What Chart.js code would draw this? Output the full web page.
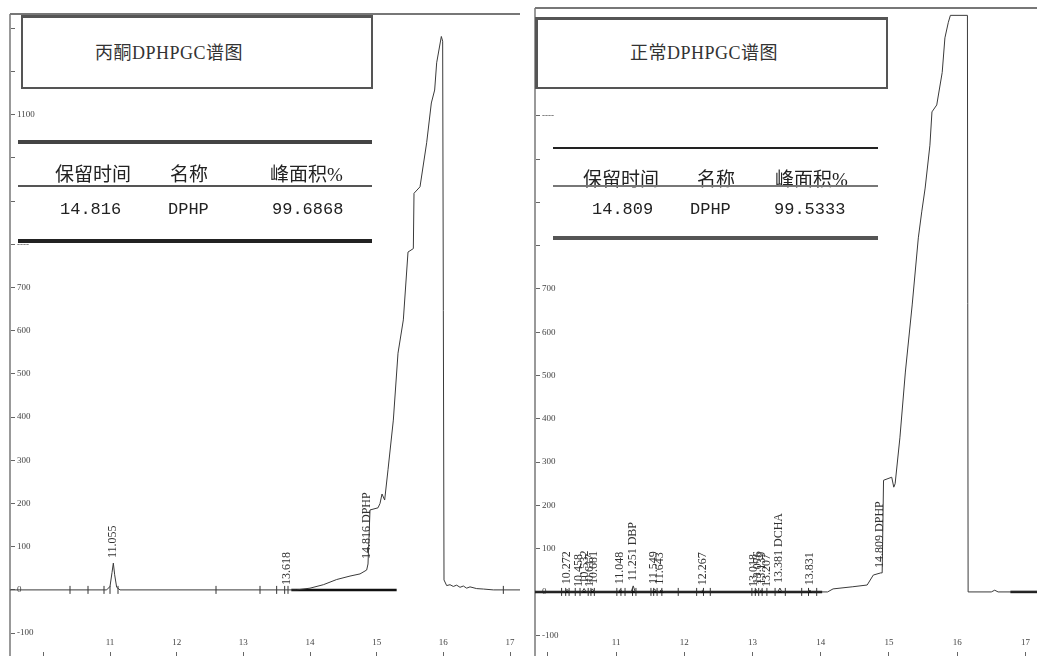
<!DOCTYPE html>
<html>
<head>
<meta charset="utf-8">
<script src="https://cdn.jsdelivr.net/npm/chart.js@4.4.0/dist/chart.umd.min.js"></script>
<style>
  body { margin: 0; width: 1037px; height: 656px; overflow: hidden; position: relative; background: #fff;
         font-family: "Liberation Serif", "Noto Sans CJK SC", serif; color: #222; }
  canvas { position: absolute; }
  #leftChart { left: 9px; top: 14px; }
  #rightChart { left: 534px; top: 8px; }
  .line { position: absolute; }
  .box { position: absolute; background: #fff; box-sizing: border-box; }
  .t { position: absolute; white-space: nowrap; line-height: 20px; height: 20px; }
  .cn { font-size: 19px; }
  .num { font-family: "Liberation Mono", monospace; font-size: 17px; }
  .title { font-size: 18px; letter-spacing: 0.5px; color: #333; }
</style>
</head>
<body>
<canvas id="leftChart" width="511" height="642"></canvas>
<canvas id="rightChart" width="503" height="648"></canvas>

<!-- frame tops -->
<div class="line" style="left:10px;top:13px;width:510px;height:2px;background:#777"></div>
<div class="line" style="left:535px;top:7px;width:502px;height:2px;background:#777"></div>

<!-- left title + table -->
<div class="box" style="left:21px;top:15px;width:352px;height:74px;border:2px solid #555;border-top-width:3px"></div>
<div class="t title" style="left:95px;top:43px">丙酮DPHPGC谱图</div>
<div class="line" style="left:18px;top:140px;width:354px;height:4px;background:#444"></div>
<div class="t cn" style="left:55px;top:165px">保留时间</div>
<div class="t cn" style="left:170px;top:165px">名称</div>
<div class="t cn" style="left:270px;top:165px">峰面积%</div>
<div class="line" style="left:18px;top:185px;width:354px;height:2px;background:#555"></div>
<div class="t num" style="left:60px;top:200px">14.816</div>
<div class="t num" style="left:168px;top:200px">DPHP</div>
<div class="t num" style="left:272px;top:200px">99.6868</div>
<div class="line" style="left:18px;top:239px;width:354px;height:4px;background:#222"></div>

<!-- right title + table -->
<div class="box" style="left:535px;top:17px;width:353px;height:72px;border:2px solid #555;border-left-width:3px;border-top-width:3px"></div>
<div class="t title" style="left:630px;top:43px">正常DPHPGC谱图</div>
<div class="line" style="left:553px;top:147px;width:325px;height:2px;background:#222"></div>
<div class="t cn" style="left:583px;top:170px">保留时间</div>
<div class="t cn" style="left:697px;top:170px">名称</div>
<div class="t cn" style="left:775px;top:170px">峰面积%</div>
<div class="line" style="left:553px;top:185px;width:325px;height:2px;background:#777"></div>
<div class="t num" style="left:592px;top:200px">14.809</div>
<div class="t num" style="left:690px;top:200px">DPHP</div>
<div class="t num" style="left:774px;top:200px">99.5333</div>
<div class="line" style="left:553px;top:236px;width:325px;height:4px;background:#555"></div>

<script>
// ---- left chromatogram (丙酮) ----
const leftTime   = [9.5, 10.95, 11.0, 11.03, 11.05, 11.07, 11.1, 11.15, 13.8, 14.0, 14.2, 14.4, 14.6, 14.75, 14.85, 14.87,
                    14.9, 15.02, 15.05, 15.08, 15.12, 15.17, 15.25, 15.32, 15.40, 15.47, 15.55, 15.56, 15.65, 15.75, 15.82,
                    15.87, 15.90, 15.97, 15.99, 16.01, 16.05, 16.1, 16.15, 16.2, 16.25, 16.3, 16.35, 16.4, 16.5, 16.6, 16.75, 17.15];
const leftSignal = [0, 0, 8, 40, 62, 35, 6, 0, 0, 4, 12, 24, 32, 37, 46, 60,
                    185, 190, 200, 222, 208, 278, 393, 548, 625, 782, 790, 918, 933, 1035, 1127,
                    1157, 1220, 1281, 1270, 23, 10, 12, 8, 11, 6, 9, 4, 7, 3, 2, 0, 0];
const leftMarkTime  = [10.4, 10.67, 10.91, 11.0, 11.12, 12.59, 13.25, 13.5, 13.62, 13.67, 16.9];
const leftBaseStart = [13.72];
const leftBaseEnd   = [15.3];
const leftLabelTime = [11.05, 13.66, 14.86];
const leftLabelText = ['11.055', '13.618', '14.816 DPHP'];

// ---- right chromatogram (正常) ----
const rightTime   = [9.8, 10.25, 10.28, 10.31, 10.5, 10.53, 10.56, 10.62, 10.65, 10.68, 11.03, 11.06, 11.09, 11.22, 11.25, 11.28,
                     11.53, 11.56, 11.6, 11.63, 11.66, 11.7, 12.24, 12.27, 12.3, 13.02, 13.05, 13.08, 13.1, 13.13, 13.16,
                     13.37, 13.40, 13.43, 13.81, 13.84, 13.87, 14.1, 14.18, 14.47, 14.68, 14.77, 14.88, 14.90, 14.92, 15.04,
                     15.07, 15.09, 15.16, 15.24, 15.34, 15.43, 15.48, 15.53, 15.60, 15.63, 15.70, 15.78, 15.82, 15.87, 15.90,
                     16.15, 16.16, 16.5, 16.55, 16.6, 17.17];
const rightSignal = [0, 0, 6, 0, 0, 8, 0, 0, 7, 0, 0, 6, 0, 0, 14, 0,
                     0, 7, 0, 0, 5, 0, 0, 4, 0, 0, 6, 0, 0, 5, 0,
                     0, 9, 0, 0, 4, 0, 0, 7, 12, 16, 39, 44, 44, 258, 265,
                     242, 250, 356, 508, 663, 818, 878, 933, 1032, 1109, 1125, 1200, 1280, 1316, 1332,
                     1332, 0, 0, 4, 0, 0];
const rightMarkTime  = [10.20, 10.26, 10.31, 10.40, 10.47, 10.59, 10.63, 10.68, 11.01, 11.07, 11.13, 11.24, 11.29,
                        11.51, 11.55, 11.60, 11.67, 11.91, 12.18, 12.28, 12.38, 12.99, 13.04, 13.09, 13.14, 13.21,
                        13.33, 13.48, 13.72, 13.82, 13.94];
const rightBaseStart = [9.8, 16.78];
const rightBaseEnd   = [14.02, 17.17];
const rightLabelTime = [10.28, 10.46, 10.54, 10.62, 10.68, 11.06, 11.25, 11.55, 11.64, 12.27,
                        13.02, 13.08, 13.14, 13.21, 13.38, 13.84, 14.86];
const rightLabelText = ['10.272', '10.458', '10.532', '10.617', '10.681', '11.048', '11.251 DBP', '11.549', '11.643', '12.267',
                        '13.018', '13.076', '13.139', '13.207', '13.381 DCHA', '13.831', '14.809 DPHP'];

// ---- axes ----
const xTickValues   = [10, 11, 12, 13, 14, 15, 16, 17];
const xTickLabels   = ['', '11', '12', '13', '14', '15', '16', '17'];
const yTickValues   = [-100, 0, 100, 200, 300, 400, 500, 600, 700, 800, 900, 1000, 1100, 1200, 1300];
const leftYHidden   = [900, 1000, 1200, 1300];
const leftYDashed   = [800];
const rightYHidden  = [800, 900, 1000, 1200, 1300];
const rightYDashed  = [1100];

function series(ts, vs) {
  return ts.map((t, i) => ({ x: t, y: vs[i] }));
}

function peakAt(ts, vs, t) {
  let h = 0;
  ts.forEach((tt, i) => { if (Math.abs(tt - t) <= 0.03 && vs[i] > h) h = vs[i]; });
  return h;
}

// no extra space around the chart area: axes are drawn inside it
function noPadding(s) {
  s.paddingTop = 0; s.paddingBottom = 0; s.paddingLeft = 0; s.paddingRight = 0;
}

const peakLabels = {
  id: 'peakLabels',
  afterDatasetsDraw(chart, args, opts) {
    const { ctx, scales: { x, y } } = chart;
    ctx.save();
    ctx.font = '12px "Liberation Serif"';
    ctx.fillStyle = '#333';
    ctx.textBaseline = 'middle';
    ctx.textAlign = 'left';
    opts.times.forEach((t, i) => {
      const h = peakAt(opts.time, opts.signal, t);
      ctx.save();
      ctx.translate(x.getPixelForValue(t), y.getPixelForValue(h) - 5);
      ctx.rotate(-Math.PI / 2);
      ctx.fillText(opts.texts[i], 0, 0);
      ctx.restore();
    });
    ctx.restore();
  }
};

function makeChart(id, d) {
  const datasets = [
    { data: series(d.time, d.signal), borderColor: '#3a3a3a', borderWidth: 1, pointRadius: 0, tension: 0 }
  ];
  d.baseStart.forEach((s, i) => {
    datasets.push({ data: [{ x: s, y: 0 }, { x: d.baseEnd[i], y: 0 }], borderColor: '#111', borderWidth: 2.5, pointRadius: 0 });
  });
  datasets.push({
    data: d.marks.map(t => ({ x: t, y: 0 })), showLine: false,
    pointStyle: 'line', rotation: 90, pointRadius: 4, borderColor: '#333', borderWidth: 1
  });

  new Chart(document.getElementById(id), {
    type: 'line',
    data: { datasets: datasets },
    plugins: [peakLabels],
    options: {
      responsive: false,
      animation: false,
      events: [],
      layout: { autoPadding: false, padding: { left: 1 } },
      plugins: {
        legend: { display: false },
        tooltip: { enabled: false },
        peakLabels: { times: d.labelTime, texts: d.labelText, time: d.time, signal: d.signal }
      },
      scales: {
        x: {
          type: 'linear', min: d.xMin, max: d.xMax,
          afterFit: s => { s.height = 0; noPadding(s); },
          afterBuildTicks: s => { s.ticks = xTickValues.map(v => ({ value: v })); },
          border: { display: false },
          grid: { drawOnChartArea: false, tickLength: -4, color: '#666' },
          ticks: {
            mirror: true, padding: 8, maxRotation: 0, autoSkip: false,
            color: '#444', font: { family: 'Liberation Serif', size: 9 },
            callback: v => xTickLabels[xTickValues.indexOf(v)] || ''
          }
        },
        y: {
          type: 'linear', min: d.yMin, max: d.yMax,
          afterFit: s => { s.width = 0; noPadding(s); },
          afterBuildTicks: s => { s.ticks = yTickValues.map(v => ({ value: v })); },
          border: { display: true, color: '#999', width: 2 },
          grid: { drawOnChartArea: false, tickLength: -5, color: '#666' },
          ticks: {
            mirror: true, padding: 7, autoSkip: false,
            color: '#444', font: { family: 'Liberation Serif', size: 9 },
            callback: v => d.hidden.includes(v) ? '' : (d.dashed.includes(v) ? '----' : String(v))
          }
        }
      }
    }
  });
}

makeChart('leftChart', {
  time: leftTime, signal: leftSignal, marks: leftMarkTime,
  baseStart: leftBaseStart, baseEnd: leftBaseEnd,
  labelTime: leftLabelTime, labelText: leftLabelText,
  hidden: leftYHidden, dashed: leftYDashed,
  xMin: 9.5, xMax: 17.15, yMin: -153, yMax: 1333
});

makeChart('rightChart', {
  time: rightTime, signal: rightSignal, marks: rightMarkTime,
  baseStart: rightBaseStart, baseEnd: rightBaseEnd,
  labelTime: rightLabelTime, labelText: rightLabelText,
  hidden: rightYHidden, dashed: rightYDashed,
  xMin: 9.81, xMax: 17.17, yMin: -148, yMax: 1349
});
</script>
</body>
</html>
